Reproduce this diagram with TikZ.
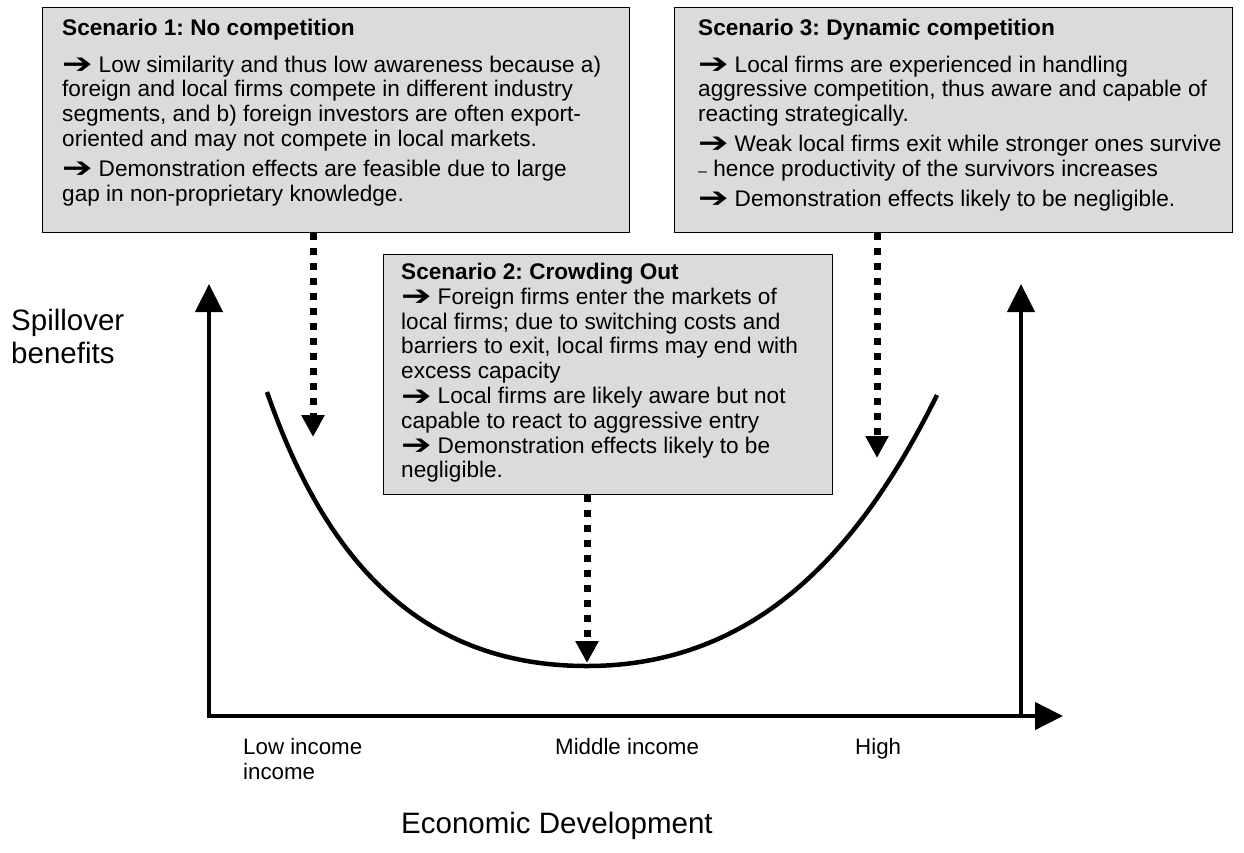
\documentclass[tikz,border=0pt]{standalone}
\usepackage{fontspec}
\usepackage{graphicx}
\setmainfont{Liberation Sans}
\newfontfamily\arrowfont{DejaVu Sans}
\usetikzlibrary{positioning,arrows.meta}
\definecolor{boxgray}{gray}{0.86}
\newcommand{\ra}{\smash{\raisebox{-1.5pt}{\scalebox{1.3}[1]{\fontsize{28}{28}\arrowfont ➔}}}\hspace{6pt}}
\frenchspacing

\begin{document}
\begin{tikzpicture}[x=1pt, y=-1pt,
  scen/.style={draw, fill=boxgray, line width=1.2pt, inner sep=0pt, anchor=north west},
  body/.style={anchor=north west, inner sep=0pt, align=left, font=\fontsize{22.6}{24.8}\selectfont},
  axis/.style={line width=4.5pt},
  axistip/.tip={Triangle[length=28pt,width=27pt]},
  hint/.style={line width=7pt, dash pattern=on 7pt off 8pt, -{Triangle[length=22pt,width=22pt]}},
  lbl/.style={anchor=north west, inner sep=0pt, align=left, font=\fontsize{22.3}{25}\selectfont},
  big/.style={inner sep=0pt, align=left, font=\fontsize{29.5}{33}\selectfont}]
	\useasboundingbox (0,0) rectangle (1244,852);

	% scenario boxes
	\node[scen, minimum width=587pt, minimum height=225pt] (scen1) at (42,7) {};
	\node[scen, minimum width=558pt, minimum height=225pt] (scen3) at (674,7) {};
	\node[scen, minimum width=449pt, minimum height=240pt] (scen2) at (383,254) {};

	\node[body, below right=12pt and 20pt of scen1.north west] (text1) {\textbf{Scenario 1: No competition}\\[11.7pt]
		\ra Low similarity and thus low awareness because a)\\
		foreign and local firms compete in different industry\\
		segments, and b) foreign investors are often export-\\
		oriented and may not compete in local markets.\\[5pt]
		\ra Demonstration effects are feasible due to large\\
		gap in non-proprietary knowledge.};
	\node[body, below right=12pt and 24pt of scen3.north west] (text3) {\textbf{Scenario 3: Dynamic competition}\\[11.7pt]
		\ra Local firms are experienced in handling\\
		aggressive competition, thus aware and capable of\\
		reacting strategically.\\[5pt]
		\ra Weak local firms exit while stronger ones survive\\
		{\fontsize{16}{24.8}\selectfont --} hence productivity of the survivors increases\\[5pt]
		\ra Demonstration effects likely to be negligible.};
	\node[body, below right=9pt and 18pt of scen2.north west] (text2) {\textbf{Scenario 2: Crowding Out}\\
		\ra Foreign firms enter the markets of\\
		local firms; due to switching costs and\\
		barriers to exit, local firms may end with\\
		excess capacity\\
		\ra Local firms are likely aware but not\\
		capable to react to aggressive entry\\
		\ra Demonstration effects likely to be\\
		negligible.};

	% axes
	\coordinate (origin) at (209,716);
	\coordinate (xend) at (1063,716);
	\coordinate (yend) at (209,284);
	\coordinate (rbase) at (1021,716);
	\coordinate (rend) at (1021,284);
	\draw[axis, axistip-axistip] (yend) -- (origin) -- (xend);
	\draw[axis, -axistip] (rbase) -- (rend);

	% U curve
	\draw[line width=4.5pt] (267,392) .. controls (325,560) and (420,666) .. (587,666)
		.. controls (770,666) and (870,530) .. (937,395);

	% hints from the boxes
	\coordinate (hit1) at (313,437);
	\coordinate (hit2) at (587,663);
	\coordinate (hit3) at (877,458);
	\draw[hint] (scen1.south -| hit1) -- (hit1);
	\draw[hint] (scen2.south -| hit2) -- (hit2);
	\draw[hint] (scen3.south -| hit3) -- (hit3);

	% labels
	\node[big, anchor=north west] (ylabel) at (11,309) {Spillover\\benefits};
	\node[big, anchor=base] (xlabel) at (557,833) {Economic Development};
	\node[lbl] (low) at (243,738) {Low income\\income};
	\node[lbl] (mid) at (555,738) {Middle income};
	\node[lbl] (high) at (855,738) {High};
\end{tikzpicture}
\end{document}
